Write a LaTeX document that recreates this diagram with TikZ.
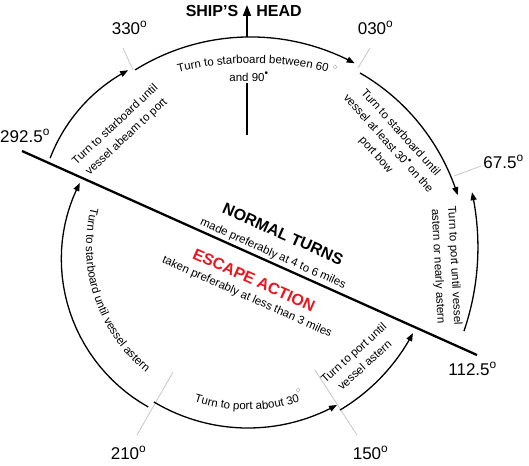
\documentclass[tikz,border=0pt]{standalone}
\usepackage{fontspec}
\setmainfont{Liberation Sans}
\usetikzlibrary{arrows.meta,decorations.text}
\definecolor{escred}{RGB}{232,22,32}
% quadratic-radius arc around (247,247): r1, rmid, r2, a1, a2
\newcommand{\ringarc}[6][]{%
  \draw[arcline,#1] plot[domain=0:1,samples=30,variable=\t]
  ({247+((#2)*(1-\t)*(1-2*\t)+4*(#3)*\t*(1-\t)+(#4)*\t*(2*\t-1))*cos((#5)+((#6)-(#5))*\t)},
   {247-((#2)*(1-\t)*(1-2*\t)+4*(#3)*\t*(1-\t)+(#4)*\t*(2*\t-1))*sin((#5)+((#6)-(#5))*\t)});}
\newcommand{\blackdot}{\raisebox{0.4em}{\fontsize{10}{10}\selectfont\textbullet}}
\begin{document}
\begin{tikzpicture}[x=1pt,y=-1pt,
  arcline/.style={line width=1.3pt,-{Triangle[length=8pt,width=6pt]}},
  tickline/.style={draw=black!22,line width=0.8pt},
  deg/.style={font=\fontsize{17}{17}\selectfont,inner sep=0pt},
  small/.style={font=\fontsize{11.5}{16.5}\selectfont,align=center,inner sep=0pt},
  bigb/.style={font=\fontsize{16}{16}\selectfont\bfseries,inner sep=0pt}]
\useasboundingbox (0,0) rectangle (529,465);

% main diagonal
\coordinate (d1) at (22,151);
\coordinate (d2) at (477,355);
\draw[line width=2.3pt] (d1) -- (d2);

% ticks
\coordinate (t330a) at (123,48);  \coordinate (t330b) at (133,70);
\coordinate (t030a) at (370,48);  \coordinate (t030b) at (358,68);
\coordinate (t675a) at (454,176); \coordinate (t675b) at (481,166);
\coordinate (t210a) at (173,372); \coordinate (t210b) at (137,435);
\coordinate (t150a) at (315,370); \coordinate (t150b) at (357,435);
\draw[tickline] (t330a) -- (t330b);
\draw[tickline] (t030a) -- (t030b);
\draw[tickline] (t675a) -- (t675b);
\draw[tickline] (t210a) -- (t210b);
\draw[tickline] (t150a) -- (t150b);

% arcs
\ringarc{216}{217}{213}{155.7}{123.9}
\ringarc{209.5}{210}{213}{122.3}{59.6}
\ringarc{207.5}{212}{217}{57}{13.8}
\ringarc{232.7}{231}{231.6}{-21.2}{13.7}
\ringarc{187.7}{187}{187}{-60.3}{-27.4}
\ringarc{180.8}{181}{181.8}{-121}{-60.3}
\ringarc{188}{188.5}{179}{238.3}{159}

% ship's head
\coordinate (sh0) at (247,135); \coordinate (sh1) at (247,83);
\coordinate (sh2) at (247,37);  \coordinate (sh3) at (247,5);
\draw[line width=1.8pt] (sh0) -- (sh1);
\draw[line width=1.8pt,-{Triangle[length=11pt,width=8pt]}] (sh2) -- (sh3);
\node[bigb] (ships) at (212,11) {SHIP{\char"27}S};
\node[bigb] (head) at (279,11) {HEAD};

% degree labels
\node[deg] (l330) at (126,28) {330\rlap{\textsuperscript{o}}};
\node[deg] (l030) at (372,28) {030\rlap{\textsuperscript{o}}};
\node[deg] (l2925) at (21.5,136) {292.5\rlap{\textsuperscript{o}}};
\node[deg] (l675) at (500,162) {67.5\rlap{\textsuperscript{o}}};
\node[deg] (l1125) at (469,369) {112.5\rlap{\textsuperscript{o}}};
\node[deg] (l210) at (125,453) {210\rlap{\textsuperscript{o}}};
\node[deg] (l150) at (367,453) {150\rlap{\textsuperscript{o}}};

% curved texts
\path[decorate,decoration={text along path,text align=center,
  text={|\fontsize{11.5}{14}\selectfont|Turn to starboard between 60}}]
  plot[domain=112:68,samples=40,variable=\t] ({253+300*cos(\t)},{363-300*sin(\t)});
\draw[black!30,line width=0.5pt] (335,67) circle (1.9);
\node[small] (and90) at (247,77) {and 90\rlap{\blackdot}};

\path[decorate,decoration={text along path,text align=center,
  text={|\fontsize{11.5}{14}\selectfont|Turn to port about 30}}]
  plot[domain=-125:-55,samples=40,variable=\t] ({247+170*cos(\t)},{240-170*sin(\t)});
\draw[black!30,line width=0.5pt] (298,390) circle (1.9);

\path[decorate,decoration={text along path,text align=center,
  text={|\fontsize{11.5}{14}\selectfont|Turn to starboard until vessel astern}}]
  plot[domain=148:249,samples=50,variable=\t] ({247+161*cos(\t)},{247-161*sin(\t)});

% rotated texts
\node[small,rotate=43] (txa) at (121,131) {Turn to starboard until\\vessel abeam to port};
\node[small,rotate=-48] (txb) at (388,144) {Turn to starboard until\\vessel at least 30\blackdot{} on the\\port bow};
\node[small,rotate=-87] (txc) at (446,266) {Turn to port until vessel\\astern or nearly astern};
\node[small,rotate=42] (txd) at (359,359) {Turn to port until\\vessel astern};

% centre texts
\node[bigb,rotate=-24] (nt) at (283,234) {NORMAL TURNS};
\node[small,rotate=-24] (mp) at (273,254) {made preferably at 4 to 6 miles};
\node[bigb,text=escred,rotate=-24] (ea) at (254,280) {ESCAPE ACTION};
\node[small,rotate=-24] (tp) at (247,297) {taken preferably at less than 3 miles};
\end{tikzpicture}
\end{document}
